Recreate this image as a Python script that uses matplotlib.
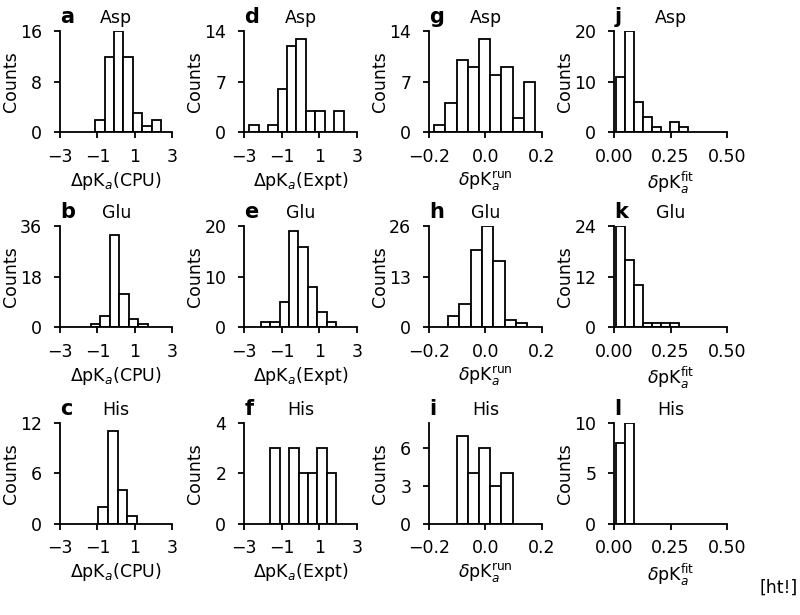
import numpy as np
import matplotlib
matplotlib.use("Agg")
from matplotlib import pyplot as plt

# histogram counts, with first bin edge and bin width
counts_a = [2, 12, 16, 12, 3, 1, 2]
counts_b = [1, 4, 33, 12, 3, 1]
counts_c = [2, 11, 4, 1]
counts_d = [1, 0, 1, 6, 12, 13, 3, 3, 0, 3]
counts_e = [1, 1, 5, 19, 16, 8, 3, 1]
counts_f = [3, 0, 3, 2, 2, 3, 2]
counts_g = [1, 4, 10, 9, 13, 8, 9, 2, 7]
counts_h = [3, 6, 20, 26, 17, 2, 1]
counts_i = [7, 4, 6, 3, 4]
counts_j = [11, 20, 6, 3, 1, 0, 2, 1]
counts_k = [24, 16, 10, 1, 1, 1, 1]
counts_l = [8, 10]

start_a, width_a = -1.13, 0.506
start_b, width_b = -1.36, 0.507
start_c, width_c = -0.95, 0.51
start_d, width_d = -2.73, 0.503
start_e, width_e = -2.13, 0.505
start_f, width_f = -1.61, 0.503
start_g, width_g = -0.183, 0.040
start_h, width_h = -0.134, 0.0404
start_i, width_i = -0.103, 0.040
start_j, width_j = 0.0074, 0.0402
start_k, width_k = 0.0074, 0.0402
start_l, width_l = 0.0074, 0.041

yticks_a, yticks_b, yticks_c = [0, 8, 16], [0, 18, 36], [0, 6, 12]
yticks_d, yticks_e, yticks_f = [0, 7, 14], [0, 10, 20], [0, 2, 4]
yticks_g, yticks_h, yticks_i = [0, 7, 14], [0, 13, 26], [0, 3, 6]
yticks_j, yticks_k, yticks_l = [0, 10, 20], [0, 12, 24], [0, 5, 10]
ymax_i = 8

residues = ['Asp', 'Glu', 'His']
letters = [['a', 'd', 'g', 'j'], ['b', 'e', 'h', 'k'], ['c', 'f', 'i', 'l']]

xlabels = [r'$\Delta$pK$_a$(CPU)', r'$\Delta$pK$_a$(Expt)',
           r'$\delta$pK$_a^{\mathrm{run}}$', r'$\delta$pK$_a^{\mathrm{fit}}$']
xlims = [(-3, 3), (-3, 3), (-0.2, 0.2), (0, 0.5)]
xticks = [[-3, -1, 1, 3], [-3, -1, 1, 3], [-0.2, 0.0, 0.2], [0.0, 0.25, 0.5]]
xticklabels = [['−3', '−1', '1', '3'], ['−3', '−1', '1', '3'],
               ['−0.2', '0.0', '0.2'], ['0.00', '0.25', '0.50']]

panels = [
    [(counts_a, start_a, width_a, yticks_a), (counts_d, start_d, width_d, yticks_d),
     (counts_g, start_g, width_g, yticks_g), (counts_j, start_j, width_j, yticks_j)],
    [(counts_b, start_b, width_b, yticks_b), (counts_e, start_e, width_e, yticks_e),
     (counts_h, start_h, width_h, yticks_h), (counts_k, start_k, width_k, yticks_k)],
    [(counts_c, start_c, width_c, yticks_c), (counts_f, start_f, width_f, yticks_f),
     (counts_i, start_i, width_i, yticks_i), (counts_l, start_l, width_l, yticks_l)],
]

plt.rcParams['font.size'] = 12.5
fig = plt.figure(figsize=(8, 6.15), dpi=100)

lefts = [0.075, 0.3054, 0.5366, 0.7679]
bottoms = [0.7849, 0.4678, 0.148]
w, h = 0.1405, 0.1642

for r in range(3):
    for c in range(4):
        ax = fig.add_axes([lefts[c], bottoms[r], w, h])
        cnt, st, wd, yt = panels[r][c]
        edges = st + wd * np.arange(len(cnt))
        ax.bar(edges, cnt, width=wd, align='edge', color='white',
               edgecolor='black', linewidth=1.3)
        ax.set_xlim(*xlims[c])
        ax.set_xticks(xticks[c])
        ax.set_xticklabels(xticklabels[c])
        ax.set_yticks(yt)
        if r == 2 and c == 2:
            ax.set_ylim(0, ymax_i)
        else:
            ax.set_ylim(0, yt[-1])
        ax.set_xlabel(xlabels[c], labelpad=3)
        ax.set_ylabel('Counts')
        ax.yaxis.set_label_coords(-0.36, 0.5)
        ax.set_title(residues[r], fontsize=12.5)
        ax.set_title(letters[r][c], loc='left', fontsize=15, fontweight='bold')
        ax.spines['top'].set_visible(False)
        ax.spines['right'].set_visible(False)
        ax.spines['left'].set_linewidth(1.3)
        ax.spines['bottom'].set_linewidth(1.3)
        ax.tick_params(width=1.3, length=4)
        ax.tick_params(axis='x', pad=7)
        ax.tick_params(axis='y', pad=9)

fig.text(0.997, 1 - 588 / 615, '[ht!]', ha='right', va='center', fontsize=12.5)

fig.savefig('out.png', dpi=100)
